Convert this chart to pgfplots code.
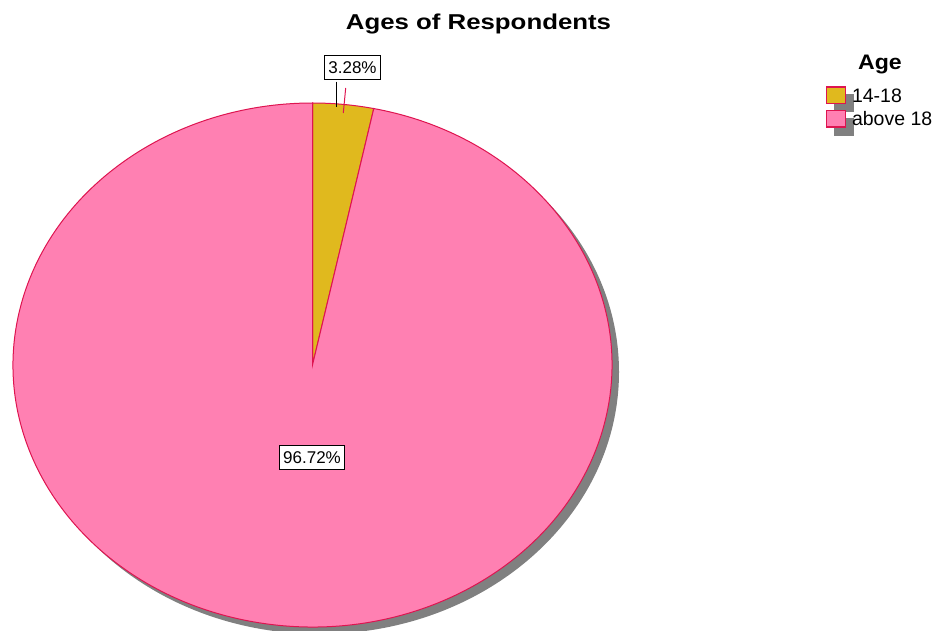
\documentclass[border=0pt]{standalone}
\usepackage{fontspec}
\setmainfont{Liberation Sans}
\usepackage{pgfplots}
\usepackage{pgfplotstable}
\pgfplotsset{compat=1.18}

\definecolor{sliceA}{RGB}{224,185,30}
\definecolor{sliceB}{RGB}{255,128,178}
\definecolor{edge}{RGB}{222,20,80}
\definecolor{shadowgray}{RGB}{128,128,128}

% share of respondents by age group (percent)
\pgfplotstableread[col sep=comma]{
label,percent
14-18,3.28
above 18,96.72
}\agetable

\pgfplotstablegetelem{0}{percent}\of\agetable \let\pA\pgfplotsretval
\pgfplotstablegetelem{1}{percent}\of\agetable \let\pB\pgfplotsretval
\pgfmathsetmacro\aEnd{90-3.6*\pA}
\pgfmathsetmacro\bEnd{\aEnd-3.6*\pB}

\pgfplotsset{
  swatch/.style={legend image code/.code={
    \fill[shadowgray, overlay] (8pt,-16.35pt) rectangle (27pt,0.35pt);
    \draw[##1] (0pt,-8.35pt) rectangle (19pt,8.35pt);
  }}
}

\begin{document}
\begin{tikzpicture}
\useasboundingbox (0,0) rectangle (935pt,630pt);
\begin{axis}[
    width=935pt, height=630pt,
    scale only axis,
    xmin=0, xmax=935, ymin=0, ymax=630,
    hide axis,
    clip=false,
    legend style={at={(axis cs:825.3,544)}, anchor=north west,
      draw=none, fill=none, inner sep=0pt,
      nodes={inner sep=0pt, text depth=0pt, font=\fontsize{19.5}{20}\selectfont},
      row sep=5.3pt,
      /tikz/every odd column/.append style={column sep=6pt}},
    legend cell align=left
]
% shadow
\fill[shadowgray] (axis cs:319.5,258) ellipse [x radius=299.5pt, y radius=262pt];
% slices
\filldraw[fill=sliceA, draw=edge, line width=1pt]
  (axis cs:312.5,265) -- ++(90:299.5pt and 262pt)
  arc[start angle=90, end angle=\aEnd, x radius=299.5pt, y radius=262pt] -- cycle;
\filldraw[fill=sliceB, draw=edge, line width=1pt]
  (axis cs:312.5,265) -- ++(\aEnd:299.5pt and 262pt)
  arc[start angle=\aEnd, end angle=\bEnd, x radius=299.5pt, y radius=262pt] -- cycle;

% small slice label with leader
\draw[edge, line width=1pt] (axis cs:345.7,542) -- (axis cs:343.3,517);
\draw[black, line width=1pt] (axis cs:336.7,548.3) -- (axis cs:336.7,523.3);
\node[draw=black, fill=white, line width=1.2pt, inner xsep=4pt, inner ysep=6pt,
  text height=12.5pt, text depth=0pt, font=\fontsize{17}{20}\selectfont]
  at (axis cs:352.5,562.5) {3.28\%};
\node[draw=black, fill=white, line width=1.2pt, inner xsep=4pt, inner ysep=6pt,
  text height=12.5pt, text depth=0pt, font=\fontsize{17}{20}\selectfont]
  at (axis cs:312,172.5) {96.72\%};

% title
\node[anchor=base, font=\bfseries\fontsize{21.5}{24}\selectfont]
  at (axis cs:478.5,600) {\scalebox{1.2}[1]{Ages of Respondents}};
\node[anchor=base, font=\bfseries\fontsize{21}{24}\selectfont]
  at (axis cs:880,560) {\scalebox{1.1}[1]{Age}};

\addlegendimage{swatch, fill=sliceA, draw=edge, line width=1.5pt}
\addlegendentry{14-18}
\addlegendimage{swatch, fill=sliceB, draw=edge, line width=1.5pt}
\addlegendentry{above 18}
\end{axis}
\end{tikzpicture}
\end{document}
